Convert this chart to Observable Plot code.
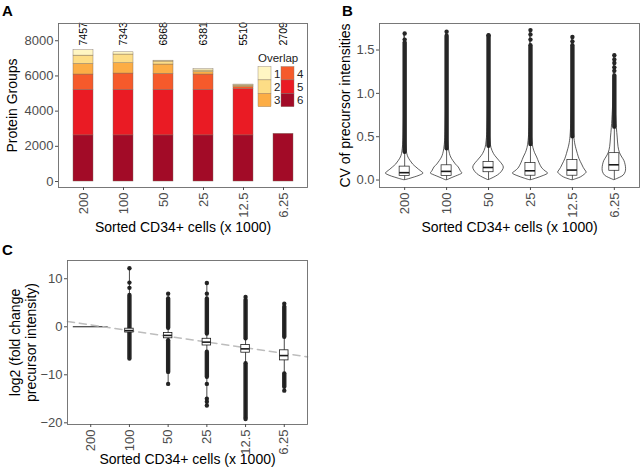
<!DOCTYPE html>
<html><head><meta charset="utf-8">
<script src="https://cdn.jsdelivr.net/npm/d3@7"></script>
<script src="https://cdn.jsdelivr.net/npm/@observablehq/plot@0.6"></script>
<style>
body{margin:0;background:#fff;}
#fig{position:relative;width:640px;height:474px;overflow:hidden;background:#fff;font-family:"Liberation Sans",Arial,sans-serif;}
.panel{position:absolute;}
.tag{position:absolute;font-weight:bold;font-size:15px;line-height:15px;color:#000;}
</style></head><body><div id="fig"></div>
<script>
// ---------- shared categories ----------
const cellGroups = ["200", "100", "50", "25", "12.5", "6.25"];

// ---------- Panel A: protein groups by overlap ----------
const overlapLevels = ["1", "2", "3", "4", "5", "6"];
const overlapColors = ["#FFF6C3", "#FDDD86", "#FCAD45", "#F65A2B", "#EA1B24", "#A20B27"];
const overlap1 = [302, 127, 50, 74, 35, 0];
const overlap2 = [475, 493, 170, 95, 45, 0];
const overlap3 = [600, 587, 531, 132, 70, 0];
const overlap4 = [870, 926, 907, 870, 100, 0];
const overlap5 = [2590, 2590, 2590, 2590, 2640, 0];
const overlap6 = [2620, 2620, 2620, 2620, 2620, 2709];
const groupTotals = [7457, 7343, 6868, 6381, 5510, 2709];

// ---------- Panel B: CV of precursor intensities ----------
const cvQ1 = [0.045, 0.045, 0.09, 0.05, 0.05, 0.107];
const cvMedian = [0.085, 0.10, 0.145, 0.107, 0.115, 0.176];
const cvQ3 = [0.155, 0.17, 0.21, 0.195, 0.23, 0.31];
const cvWhiskerLow = [0, 0, 0, 0, 0, 0];
const cvWhiskerHigh = [0.32, 0.36, 0.39, 0.41, 0.5, 0.61];
const cvOutlierDenseTop = [1.58, 1.66, 1.66, 1.55, 1.55, 1.2];
const cvOutlierSparse = [[1.62, 1.69], [1.71], [1.67], [1.62, 1.68, 1.73], [1.6, 1.65], [1.26, 1.3, 1.35, 1.39, 1.44]];
// violin profiles: [value, half width in category units]
const cvViolin200 = [[0,0.03],[0.015,0.14],[0.03,0.24],[0.05,0.36],[0.075,0.45],[0.09,0.42],[0.12,0.34],[0.145,0.28],[0.18,0.2],[0.22,0.14],[0.26,0.09],[0.3,0.063],[0.36,0.045],[0.45,0.03],[0.6,0.02],[1.0,0.01],[1.69,0.003]];
const cvViolin100 = [[0,0.03],[0.02,0.12],[0.04,0.22],[0.06,0.32],[0.075,0.375],[0.1,0.34],[0.145,0.29],[0.18,0.22],[0.22,0.16],[0.26,0.11],[0.3,0.08],[0.36,0.055],[0.45,0.035],[0.6,0.022],[1.0,0.01],[1.71,0.003]];
const cvViolin50 = [[0,0.01],[0.013,0.07],[0.04,0.18],[0.07,0.27],[0.11,0.34],[0.145,0.365],[0.18,0.33],[0.22,0.26],[0.26,0.19],[0.3,0.13],[0.37,0.07],[0.45,0.045],[0.6,0.025],[1.0,0.01],[1.68,0.003]];
const cvViolin25 = [[0,0.03],[0.015,0.13],[0.03,0.22],[0.05,0.33],[0.075,0.42],[0.1,0.36],[0.13,0.29],[0.16,0.25],[0.2,0.21],[0.26,0.16],[0.31,0.11],[0.37,0.07],[0.45,0.045],[0.6,0.025],[1.0,0.01],[1.73,0.003]];
const cvViolin12_5 = [[0,0.03],[0.015,0.12],[0.03,0.2],[0.06,0.29],[0.087,0.34],[0.11,0.31],[0.14,0.27],[0.18,0.23],[0.24,0.17],[0.3,0.13],[0.36,0.095],[0.41,0.07],[0.5,0.045],[0.7,0.025],[1.0,0.012],[1.65,0.003]];
const cvViolin6_25 = [[0,0.01],[0.01,0.06],[0.025,0.13],[0.05,0.22],[0.09,0.27],[0.127,0.28],[0.17,0.27],[0.22,0.24],[0.26,0.19],[0.31,0.135],[0.38,0.1],[0.49,0.08],[0.6,0.06],[0.8,0.035],[1.0,0.02],[1.44,0.005]];

// ---------- Panel C: log2 fold change precursor intensity ----------
const lfcQ1 = [0, -1.2, -2.4, -3.9, -5.4, -7.0];
const lfcMedian = [0, -0.8, -1.8, -3.2, -4.6, -6.0];
const lfcQ3 = [0, -0.4, -1.3, -2.5, -3.8, -4.9];
const lfcMin = [0, -6.7, -11.9, -16.4, -19.2, -13.3];
const lfcMax = [0, 12.2, 6.9, 9.1, 6.2, 4.8];
const lfcDenseUpper = [null, [-0.4, 6.5], [-0.3, 5.8], [-1.5, 5.8], [-2.5, 5.5], [-2.2, 4.1]];
const lfcDenseLower = [null, [-6.7, -1.2], [-9.5, -2.9], [-10.5, -5.3], [-19.0, -7.7], [-12.6, -9.8]];
const lfcSparse = [[], [12.2, 9.2, 8.1], [6.9, -11.9], [9.1, 6.9, -11.9, -15.0, -15.6, -16.4], [6.2, -19.2], [4.8, -13.3]];
const lfcFlatViolin = [0, null, null, null, null, null]; // group 200: all values 0
const trendAt200 = 0.4;
const trendStepSlope = -1.19;

// ---------- build tables ----------
const overlapSeries = [overlap6, overlap5, overlap4, overlap3, overlap2, overlap1];
const overlapNames = ["6", "5", "4", "3", "2", "1"];
const stackRows = [];
cellGroups.forEach((g, i) => overlapSeries.forEach((s, k) => {
  if (s[i] > 0) stackRows.push({group: g, overlap: overlapNames[k], count: s[i]});
}));
const totalLabelBase = 7730; // label start height, in protein-group units
const totalRows = cellGroups.map((g, i) => ({group: g, total: groupTotals[i], at: totalLabelBase}));

const cvViolins = [cvViolin200, cvViolin100, cvViolin50, cvViolin25, cvViolin12_5, cvViolin6_25];
const violinRowsB = cvViolins.flatMap((p, i) => p.map(([value, hw]) => ({pos: i + 1, group: cellGroups[i], value, hw})));
const boxB = cellGroups.map((g, i) => ({pos: i + 1, q1: cvQ1[i], med: cvMedian[i], q3: cvQ3[i], lo: cvWhiskerLow[i], hi: cvWhiskerHigh[i], dTop: cvOutlierDenseTop[i]}));
const sparseB = cvOutlierSparse.flatMap((arr, i) => arr.map(v => ({pos: i + 1, value: v})));

const boxC = cellGroups.map((g, i) => ({pos: i + 1, q1: lfcQ1[i], med: lfcMedian[i], q3: lfcQ3[i], lo: lfcMin[i], hi: lfcMax[i]}));
const denseC = [];
cellGroups.forEach((g, i) => [lfcDenseUpper[i], lfcDenseLower[i]].forEach(r => { if (r) denseC.push({pos: i + 1, y1: r[0], y2: r[1]}); }));
const sparseC = lfcSparse.flatMap((arr, i) => arr.map(v => ({pos: i + 1, value: v})));
const flatC = lfcFlatViolin.map((v, i) => ({pos: i + 1, value: v})).filter(d => d.value !== null);
const xDomain = [0.4, 6.6];
const trendRows = xDomain.map(p => ({pos: p, value: trendAt200 + trendStepSlope * (p - 1)}));

// ---------- styling ----------
const FONT = "'Liberation Sans', Arial, sans-serif";
const GREY = "#4d4d4d";
const INK = "#1a1a1a";
const baseStyle = {fontFamily: FONT, fontSize: "13px", background: "transparent", overflow: "visible"};
const tickFmt = d => cellGroups[d - 1];
const yTitle = {frameAnchor: "left", rotate: -90, textAnchor: "middle", lineAnchor: "middle", fontSize: 14, fill: "#000"};
const xTitle = {frameAnchor: "bottom", textAnchor: "middle", lineAnchor: "top", fontSize: 14, fill: "#000"};

const fig = document.getElementById("fig");
function place(node, left, top) {
  const w = document.createElement("div");
  w.className = "panel"; w.style.left = left + "px"; w.style.top = top + "px";
  w.appendChild(node); fig.appendChild(w);
}
function tag(txt, left, top) {
  const d = document.createElement("div"); d.className = "tag"; d.textContent = txt;
  d.style.left = left + "px"; d.style.top = top + "px"; fig.appendChild(d);
}

// ---------- Panel A ----------
const chartA = Plot.plot({
  width: 320, height: 240,
  marginLeft: 58, marginRight: 13, marginTop: 23, marginBottom: 53,
  style: baseStyle,
  x: {type: "band", domain: cellGroups, paddingInner: 0.5, paddingOuter: 0.35},
  y: {domain: [-340, 8980]},
  color: {domain: overlapLevels, range: overlapColors},
  marks: [
    Plot.barY(stackRows, {x: "group", y: "count", fill: "overlap", stroke: "#7a6a5a", strokeWidth: 0.4, order: null}),
    Plot.text(totalRows, {x: "group", y: "at", text: d => String(d.total), rotate: -90, textAnchor: "start", lineAnchor: "middle", fontSize: 10.5, fill: "#000"}),
    Plot.frame({stroke: "#6b6b6b", strokeWidth: 0.9}),
    Plot.axisY({ticks: [0, 2000, 4000, 6000, 8000], tickFormat: d3.format("d"), tickSize: 3, tickPadding: 2, label: null, color: GREY, fontSize: 13}),
    Plot.axisX({tickSize: 3, tickPadding: 2, tickRotate: -90, label: null, color: GREY, fontSize: 13}),
    Plot.text(["Sorted CD34+ cells (x 1000)"], {...xTitle, dy: 35}),
    Plot.text(["Protein Groups"], {...yTitle, dx: -45.5})
  ]
});
place(chartA, 0, 0);

// legend for panel A (inline SVG)
(function(){
  const ns = "http://www.w3.org/2000/svg";
  const svg = document.createElementNS(ns, "svg");
  svg.setAttribute("width", 62); svg.setAttribute("height", 58);
  svg.style.position = "absolute"; svg.style.left = "255px"; svg.style.top = "52px";
  svg.style.fontFamily = FONT;
  const t = document.createElementNS(ns, "text");
  t.setAttribute("x", 3); t.setAttribute("y", 10); t.setAttribute("font-size", 11.5); t.setAttribute("fill", "#222");
  t.textContent = "Overlap"; svg.appendChild(t);
  overlapLevels.forEach((lv, k) => {
    const col = k < 3 ? 0 : 1, row = k % 3;
    const x0 = col ? 26 : 3, y0 = 14.5 + row * 13.4;
    const r = document.createElementNS(ns, "rect");
    r.setAttribute("x", x0); r.setAttribute("y", y0); r.setAttribute("width", 13); r.setAttribute("height", 13.4);
    r.setAttribute("fill", overlapColors[k]); r.setAttribute("stroke", "#8a7a6a"); r.setAttribute("stroke-width", 0.4);
    svg.appendChild(r);
    const l = document.createElementNS(ns, "text");
    l.setAttribute("x", x0 + 16); l.setAttribute("y", y0 + 11); l.setAttribute("font-size", 11.5); l.setAttribute("fill", "#222");
    l.textContent = lv; svg.appendChild(l);
  });
  fig.appendChild(svg);
})();

// ---------- Panel B ----------
const BWB = 0.12;
const chartB = Plot.plot({
  width: 320, height: 240,
  marginLeft: 59, marginRight: 1, marginTop: 23, marginBottom: 53,
  style: baseStyle,
  x: {type: "linear", domain: xDomain},
  y: {domain: [-0.086, 1.806]},
  marks: [
    Plot.areaX(violinRowsB, {y: "value", x1: d => d.pos - d.hw, x2: d => d.pos + d.hw, z: "group", fill: "white", stroke: INK, strokeWidth: 0.7, curve: "catmull-rom"}),
    Plot.ruleX(boxB, {x: "pos", y1: "hi", y2: "dTop", stroke: "#262626", strokeWidth: 4.4, strokeLinecap: "round"}),
    Plot.dot(sparseB, {x: "pos", y: "value", r: 2.2, fill: "#262626", stroke: "none"}),
    Plot.ruleX(boxB, {x: "pos", y1: "lo", y2: "hi", stroke: INK, strokeWidth: 0.7}),
    Plot.rect(boxB, {x1: d => d.pos - BWB, x2: d => d.pos + BWB, y1: "q1", y2: "q3", fill: "white", stroke: INK, strokeWidth: 0.7}),
    Plot.ruleY(boxB, {y: "med", x1: d => d.pos - BWB, x2: d => d.pos + BWB, stroke: INK, strokeWidth: 1.6}),
    Plot.frame({stroke: "#6b6b6b", strokeWidth: 0.9}),
    Plot.axisY({ticks: [0, 0.5, 1, 1.5], tickFormat: d3.format(".1f"), tickSize: 3, tickPadding: 2, label: null, color: GREY, fontSize: 13}),
    Plot.axisX({ticks: [1, 2, 3, 4, 5, 6], tickFormat: tickFmt, tickSize: 3, tickPadding: 2, tickRotate: -90, label: null, color: GREY, fontSize: 13}),
    Plot.text(["Sorted CD34+ cells (x 1000)"], {...xTitle, dy: 35}),
    Plot.text(["CV of precursor intensities"], {...yTitle, dx: -34})
  ]
});
place(chartB, 320, 0);

// ---------- Panel C ----------
const BWC = 0.11;
const chartC = Plot.plot({
  width: 320, height: 234,
  marginLeft: 67, marginRight: 13, marginTop: 20, marginBottom: 50,
  style: baseStyle,
  x: {type: "linear", domain: xDomain},
  y: {domain: [-20.35, 13.8]},
  marks: [
    Plot.ruleY(flatC, {y: "value", x1: d => d.pos - 0.45, x2: d => d.pos + 0.45, stroke: INK, strokeWidth: 1}),
    Plot.ruleX(denseC, {x: "pos", y1: "y1", y2: "y2", stroke: "#262626", strokeWidth: 4.4, strokeLinecap: "round"}),
    Plot.dot(sparseC, {x: "pos", y: "value", r: 2.2, fill: "#262626", stroke: "none"}),
    Plot.ruleX(boxC, {x: "pos", y1: "lo", y2: "hi", stroke: INK, strokeWidth: 0.8}),
    Plot.line(trendRows, {x: "pos", y: "value", stroke: "#bdbdbd", strokeWidth: 1.6, strokeDasharray: "7,5"}),
    Plot.rect(boxC.filter(d => d.q3 > d.q1), {x1: d => d.pos - BWC, x2: d => d.pos + BWC, y1: "q1", y2: "q3", fill: "white", stroke: INK, strokeWidth: 0.8}),
    Plot.ruleY(boxC.filter(d => d.q3 > d.q1), {y: "med", x1: d => d.pos - BWC, x2: d => d.pos + BWC, stroke: INK, strokeWidth: 1.6}),
    Plot.frame({stroke: "#6b6b6b", strokeWidth: 0.9}),
    Plot.axisY({ticks: [10, 0, -10, -20], tickSize: 3, tickPadding: 2, label: null, color: GREY, fontSize: 13}),
    Plot.axisX({ticks: [1, 2, 3, 4, 5, 6], tickFormat: tickFmt, tickSize: 3, tickPadding: 2, tickRotate: -90, label: null, color: GREY, fontSize: 13}),
    Plot.text(["Sorted CD34+ cells (x 1000)"], {...xTitle, dy: 30}),
    Plot.text(["log2 (fold change\nprecursor intensity)"], {...yTitle, dx: -45, lineHeight: 1.15})
  ]
});
place(chartC, 0, 240);

tag("A", 2, 3);
tag("B", 342, 3);
tag("C", 2, 242);
</script></body></html>
